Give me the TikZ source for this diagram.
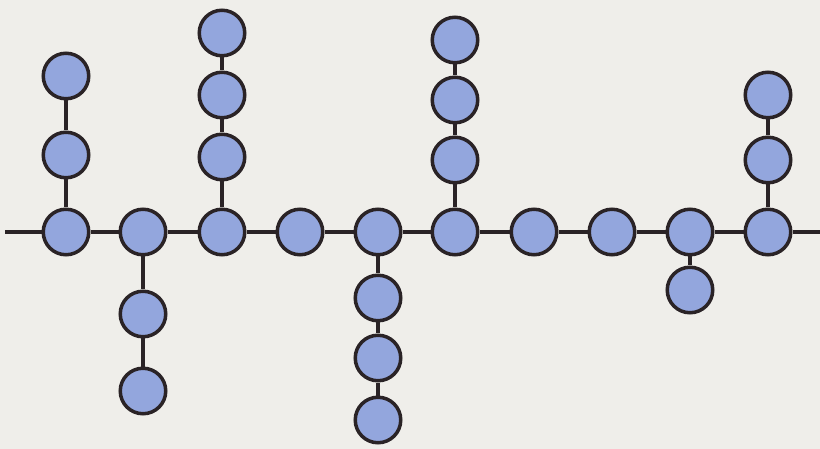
\documentclass[tikz,border=0pt]{standalone}
\begin{document}
\begin{tikzpicture}[x=1pt,y=-1pt,
  bead/.style={circle,draw=edgec,line width=3.5pt,fill=beadc,minimum size=45.5pt,inner sep=0pt},
  link/.style={draw=edgec,line width=3.2pt}]
\definecolor{edgec}{HTML}{2A2326}
\definecolor{beadc}{HTML}{93A6DD}
\definecolor{bgc}{HTML}{EFEEEA}
\fill[bgc] (0,0) rectangle (820,449);
\useasboundingbox (0,0) rectangle (820,449);
\coordinate (L) at (5,232);
\coordinate (R) at (820,232);
% main chain
\foreach \i/\x in {1/66,2/143,3/222,4/300,5/378,6/455,7/534,8/612,9/690,10/768}
  \node[bead] (m\i) at (\x,232) {};
% branches
\node[bead] (a1) at (66,155) {};
\node[bead] (a2) at (66,76) {};
\node[bead] (b1) at (143,314) {};
\node[bead] (b2) at (143,391) {};
\node[bead] (c1) at (222,157) {};
\node[bead] (c2) at (222,95) {};
\node[bead] (c3) at (222,33) {};
\node[bead] (d1) at (378,298) {};
\node[bead] (d2) at (378,358) {};
\node[bead] (d3) at (378,420) {};
\node[bead] (e1) at (455,160) {};
\node[bead] (e2) at (455,100) {};
\node[bead] (e3) at (455,40) {};
\node[bead] (f1) at (690,290) {};
\node[bead] (g1) at (768,160) {};
\node[bead] (g2) at (768,95) {};
\path[link] (L) -- (m1) (m1) -- (m2) (m2) -- (m3) (m3) -- (m4) (m4) -- (m5)
  (m5) -- (m6) (m6) -- (m7) (m7) -- (m8) (m8) -- (m9) (m9) -- (m10) (m10) -- (R)
  (m1) -- (a1) (a1) -- (a2)
  (m2) -- (b1) (b1) -- (b2)
  (m3) -- (c1) (c1) -- (c2) (c2) -- (c3)
  (m5) -- (d1) (d1) -- (d2) (d2) -- (d3)
  (m6) -- (e1) (e1) -- (e2) (e2) -- (e3)
  (m9) -- (f1)
  (m10) -- (g1) (g1) -- (g2);
\end{tikzpicture}
\end{document}
